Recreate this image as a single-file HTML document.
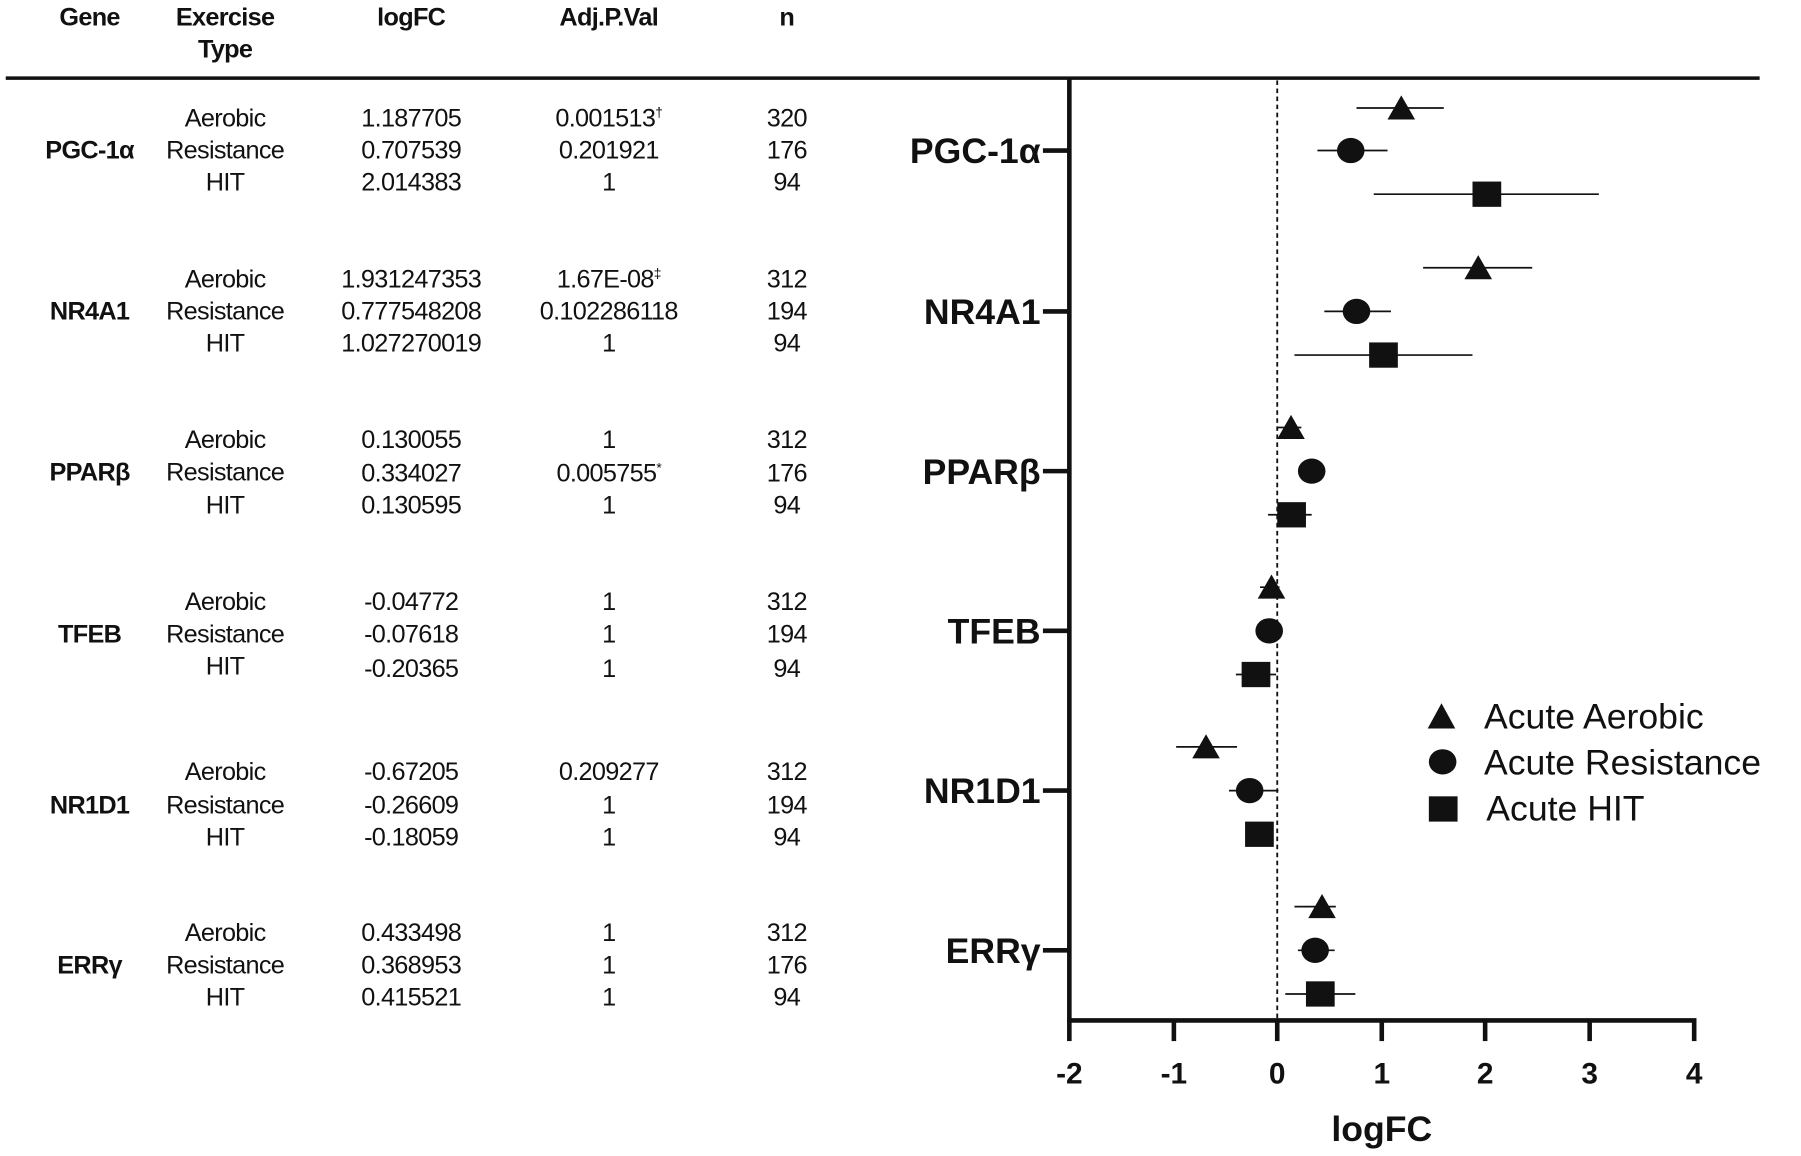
<!DOCTYPE html>
<html><head><meta charset="utf-8"><style>
html,body{margin:0;padding:0;background:#fff}
svg{display:block}
.t{font-family:"Liberation Sans Narrow","Liberation Sans",sans-serif;font-size:22px;letter-spacing:-0.6px;fill:#111}
.b{font-weight:bold}
.ax{font-family:"Liberation Sans",sans-serif;font-weight:bold;fill:#111}
</style></head><body>
<svg width="1801" height="1156" viewBox="0 0 1568 1006" preserveAspectRatio="none" xmlns="http://www.w3.org/2000/svg">
<g class="t" text-anchor="middle">
<text x="78" y="22" class="b">Gene</text>
<text x="196" y="22" class="b">Exercise</text>
<text x="196" y="50" class="b">Type</text>
<text x="358" y="22" class="b">logFC</text>
<text x="530" y="22" class="b">Adj.P.Val</text>
<text x="685" y="22" class="b">n</text>

<text x="78" y="138" class="b">PGC-1α</text>
<text x="196" y="110">Aerobic</text><text x="358" y="110">1.187705</text><text x="530" y="110">0.001513<tspan font-size="12" dy="-8">†</tspan></text><text x="685" y="110">320</text>
<text x="196" y="138">Resistance</text><text x="358" y="138">0.707539</text><text x="530" y="138">0.201921</text><text x="685" y="138">176</text>
<text x="196" y="166">HIT</text><text x="358" y="166">2.014383</text><text x="530" y="166">1</text><text x="685" y="166">94</text>

<text x="78" y="278" class="b">NR4A1</text>
<text x="196" y="250">Aerobic</text><text x="358" y="250">1.931247353</text><text x="530" y="250">1.67E-08<tspan font-size="12" dy="-8">‡</tspan></text><text x="685" y="250">312</text>
<text x="196" y="278">Resistance</text><text x="358" y="278">0.777548208</text><text x="530" y="278">0.102286118</text><text x="685" y="278">194</text>
<text x="196" y="306">HIT</text><text x="358" y="306">1.027270019</text><text x="530" y="306">1</text><text x="685" y="306">94</text>

<text x="78" y="418" class="b">PPARβ</text>
<text x="196" y="390">Aerobic</text><text x="358" y="390">0.130055</text><text x="530" y="390">1</text><text x="685" y="390">312</text>
<text x="196" y="418">Resistance</text><text x="358" y="419">0.334027</text><text x="530" y="419">0.005755<tspan font-size="12" dy="-8">*</tspan></text><text x="685" y="419">176</text>
<text x="196" y="447">HIT</text><text x="358" y="447">0.130595</text><text x="530" y="447">1</text><text x="685" y="447">94</text>

<text x="78" y="559" class="b">TFEB</text>
<text x="196" y="531">Aerobic</text><text x="358" y="531">-0.04772</text><text x="530" y="531">1</text><text x="685" y="531">312</text>
<text x="196" y="559">Resistance</text><text x="358" y="559">-0.07618</text><text x="530" y="559">1</text><text x="685" y="559">194</text>
<text x="196" y="587">HIT</text><text x="358" y="589">-0.20365</text><text x="530" y="589">1</text><text x="685" y="589">94</text>

<text x="78" y="708" class="b">NR1D1</text>
<text x="196" y="679">Aerobic</text><text x="358" y="679">-0.67205</text><text x="530" y="679">0.209277</text><text x="685" y="679">312</text>
<text x="196" y="708">Resistance</text><text x="358" y="708">-0.26609</text><text x="530" y="708">1</text><text x="685" y="708">194</text>
<text x="196" y="736">HIT</text><text x="358" y="736">-0.18059</text><text x="530" y="736">1</text><text x="685" y="736">94</text>

<text x="78" y="847" class="b">ERRγ</text>
<text x="196" y="819">Aerobic</text><text x="358" y="819">0.433498</text><text x="530" y="819">1</text><text x="685" y="819">312</text>
<text x="196" y="847">Resistance</text><text x="358" y="847">0.368953</text><text x="530" y="847">1</text><text x="685" y="847">176</text>
<text x="196" y="875">HIT</text><text x="358" y="875">0.415521</text><text x="530" y="875">1</text><text x="685" y="875">94</text>
</g>

<line x1="5" y1="68" x2="1532" y2="68" stroke="#111" stroke-width="3"/>
<line x1="931" y1="68" x2="931" y2="890" stroke="#111" stroke-width="4"/>
<line x1="929" y1="888" x2="1477" y2="888" stroke="#111" stroke-width="4"/>
<line x1="1112" y1="70" x2="1112" y2="886" stroke="#111" stroke-width="1.6" stroke-dasharray="4,3"/>
<g stroke="#111" stroke-width="4">
<line x1="931" y1="888" x2="931" y2="906"/><line x1="1022" y1="888" x2="1022" y2="906"/><line x1="1112" y1="888" x2="1112" y2="906"/><line x1="1203" y1="888" x2="1203" y2="906"/><line x1="1293" y1="888" x2="1293" y2="906"/><line x1="1384" y1="888" x2="1384" y2="906"/><line x1="1475" y1="888" x2="1475" y2="906"/>
<line x1="908" y1="131" x2="931" y2="131"/><line x1="908" y1="271" x2="931" y2="271"/><line x1="908" y1="410" x2="931" y2="410"/><line x1="908" y1="549" x2="931" y2="549"/><line x1="908" y1="688" x2="931" y2="688"/><line x1="908" y1="827" x2="931" y2="827"/>
</g>
<g class="ax" font-size="26" text-anchor="middle">
<text x="931" y="943">-2</text><text x="1022" y="943">-1</text><text x="1112" y="943">0</text><text x="1203" y="943">1</text><text x="1293" y="943">2</text><text x="1384" y="943">3</text><text x="1475" y="943">4</text>
<text x="1203" y="993" font-size="31">logFC</text>
</g>
<g class="ax" font-size="31" text-anchor="end">
<text x="906" y="142">PGC-1α</text><text x="906" y="282">NR4A1</text><text x="906" y="421">PPARβ</text><text x="906" y="560">TFEB</text><text x="906" y="699">NR1D1</text><text x="906" y="838">ERRγ</text>
</g>
<g stroke="#111" stroke-width="1.5">
<line x1="1181" y1="94" x2="1257" y2="94"/><line x1="1147" y1="131" x2="1208" y2="131"/><line x1="1196" y1="169" x2="1392" y2="169"/>
<line x1="1239" y1="233" x2="1334" y2="233"/><line x1="1153" y1="271" x2="1211" y2="271"/><line x1="1127" y1="309" x2="1282" y2="309"/>
<line x1="1112" y1="372" x2="1133" y2="372"/><line x1="1104" y1="448" x2="1142" y2="448"/>
<line x1="1097" y1="511" x2="1114" y2="511"/><line x1="1076" y1="587" x2="1111" y2="587"/>
<line x1="1024" y1="650" x2="1077" y2="650"/><line x1="1070" y1="688" x2="1113" y2="688"/>
<line x1="1127" y1="789" x2="1163" y2="789"/><line x1="1130" y1="827" x2="1162" y2="827"/><line x1="1119" y1="865" x2="1180" y2="865"/>
</g>
<g fill="#111">
<polygon points="1220,83 1232,104 1208,104"/><ellipse cx="1176" cy="131" rx="12" ry="11"/><rect x="1282" y="158" width="25" height="22"/>
<polygon points="1287,222 1299,243 1275,243"/><ellipse cx="1181" cy="271" rx="12" ry="11"/><rect x="1192" y="298" width="25" height="22"/>
<polygon points="1124,361 1136,382 1112,382"/><ellipse cx="1142" cy="410" rx="12" ry="11"/><rect x="1112" y="437" width="25" height="22"/>
<polygon points="1107,500 1119,521 1095,521"/><ellipse cx="1105" cy="549" rx="12" ry="11"/><rect x="1081" y="576" width="25" height="22"/>
<polygon points="1050,639 1062,660 1038,660"/><ellipse cx="1088" cy="688" rx="12" ry="11"/><rect x="1084" y="715" width="25" height="22"/>
<polygon points="1151,778 1163,799 1139,799"/><ellipse cx="1145" cy="827" rx="12" ry="11"/><rect x="1137" y="854" width="25" height="22"/>
<polygon points="1255,612 1267,634 1243,634"/><ellipse cx="1256" cy="663" rx="12" ry="11"/><rect x="1244" y="693" width="25" height="22"/>
</g>
<g font-family="Liberation Sans,sans-serif" font-size="31" fill="#111">
<text x="1292" y="634">Acute Aerobic</text><text x="1292" y="674">Acute Resistance</text><text x="1294" y="714">Acute HIT</text>
</g>
</svg>
</body></html>
